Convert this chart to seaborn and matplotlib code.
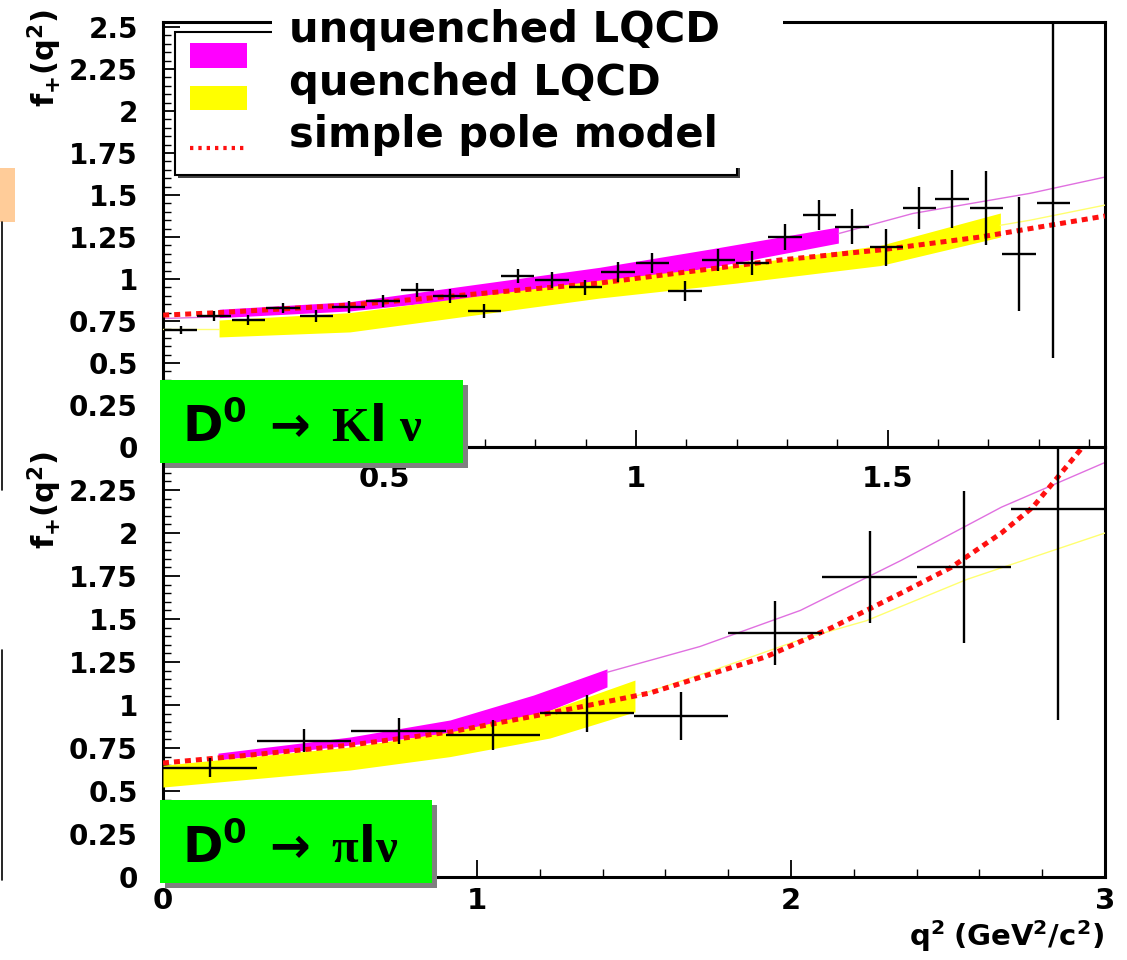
import numpy as np
import pandas as pd
import matplotlib
matplotlib.use("Agg")
import matplotlib.pyplot as plt
import seaborn as sns
from matplotlib.patches import Rectangle
from matplotlib.lines import Line2D
from matplotlib.ticker import MultipleLocator, FuncFormatter

# ---------------- data ----------------
# D0 -> K l nu  (top panel)
k_q2 = [0.095, 0.161, 0.229, 0.298, 0.364, 0.429, 0.497, 0.565, 0.630, 0.698,
        0.765, 0.833, 0.899, 0.964, 1.032, 1.097, 1.163, 1.231, 1.296, 1.364,
        1.429, 1.497, 1.563, 1.628, 1.696, 1.761, 1.829]
k_f = [0.696, 0.780, 0.756, 0.827, 0.780, 0.833, 0.869, 0.935, 0.899, 0.810,
       1.018, 0.994, 0.952, 1.042, 1.095, 0.929, 1.113, 1.095, 1.250, 1.381,
       1.310, 1.190, 1.423, 1.476, 1.423, 1.149, 1.452]
k_err_lo = [0.025, 0.03, 0.03, 0.03, 0.033, 0.035, 0.035, 0.04, 0.04, 0.04,
            0.042, 0.045, 0.045, 0.057, 0.06, 0.06, 0.068, 0.07, 0.08, 0.087,
            0.104, 0.11, 0.125, 0.173, 0.22, 0.34, 0.92]
k_err_hi = [0.025, 0.03, 0.03, 0.03, 0.033, 0.035, 0.035, 0.04, 0.04, 0.04,
            0.042, 0.045, 0.045, 0.057, 0.06, 0.06, 0.068, 0.07, 0.08, 0.087,
            0.104, 0.11, 0.125, 0.173, 0.22, 0.34, 1.10]
k_bin_half = 0.033

k_unq_x = [0.171, 0.431, 0.928, 1.15, 1.402]
k_unq_lo = [0.77, 0.81, 0.965, 1.07, 1.214]
k_unq_hi = [0.82, 0.865, 1.07, 1.18, 1.31]
k_unq_left_x = [0.06, 0.171]
k_unq_left_f = [0.765, 0.775]
k_unq_ext_x = [1.402, 1.55, 1.783, 1.932]
k_unq_ext_f = [1.27, 1.39, 1.51, 1.607]

k_q_x = [0.171, 0.431, 0.928, 1.2, 1.485, 1.724]
k_q_lo = [0.655, 0.685, 0.887, 0.976, 1.08, 1.25]
k_q_hi = [0.756, 0.80, 0.994, 1.083, 1.2, 1.393]
k_q_left_x = [0.06, 0.171]
k_q_left_f = [0.70, 0.70]
k_q_ext_x = [1.724, 1.783, 1.932]
k_q_ext_f = [1.32, 1.35, 1.44]

k_pole_x = [0.06, 0.171, 0.431, 0.928, 1.286, 1.485, 1.684, 1.783, 1.932]
k_pole_f = [0.785, 0.80, 0.845, 0.976, 1.113, 1.173, 1.25, 1.30, 1.375]

# D0 -> pi l nu  (bottom panel)
pi_q2 = [0.15, 0.45, 0.75, 1.05, 1.35, 1.65, 1.95, 2.25, 2.55, 2.85]
pi_f = [0.634, 0.791, 0.849, 0.826, 0.953, 0.936, 1.419, 1.744, 1.802, 2.14]
pi_err = [0.055, 0.067, 0.078, 0.087, 0.108, 0.14, 0.186, 0.27, 0.44, 1.23]
pi_bin_half = 0.15

pi_unq_x = [0.175, 0.596, 0.914, 1.18, 1.414]
pi_unq_lo = [0.68, 0.767, 0.837, 0.93, 1.105]
pi_unq_hi = [0.72, 0.814, 0.913, 1.058, 1.21]
pi_unq_ext_x = [1.414, 1.71, 2.03, 2.35, 2.67, 3.0]
pi_unq_ext_f = [1.19, 1.34, 1.55, 1.84, 2.15, 2.41]

pi_q_x = [0.0, 0.596, 0.914, 1.232, 1.503]
pi_q_lo = [0.523, 0.622, 0.70, 0.808, 0.96]
pi_q_hi = [0.65, 0.756, 0.843, 0.97, 1.145]
pi_q_ext_x = [1.503, 1.75, 2.03, 2.24, 2.56, 3.0]
pi_q_ext_f = [1.05, 1.20, 1.38, 1.49, 1.73, 2.0]

pi_pole_x = [0.0, 0.277, 0.596, 0.914, 1.232, 1.551, 1.92, 2.13, 2.35, 2.51,
             2.67, 2.77, 2.92, 2.96]
pi_pole_f = [0.663, 0.709, 0.767, 0.843, 0.953, 1.07, 1.28, 1.45, 1.65, 1.80,
             2.0, 2.15, 2.48, 2.6]

legend_labels = ["unquenched LQCD", "quenched LQCD", "simple pole model"]
k_title = r"$\mathbf{D^0\ \rightarrow}\ K\mathbf{l}\ \nu$"
pi_title = r"$\mathbf{D^0\ \rightarrow}\ \pi\mathbf{l}\nu$"

# ---------------- style ----------------
sns.set_theme(style="ticks")
plt.rcParams['font.family'] = ['DejaVu Sans']
plt.rcParams['font.weight'] = 'bold'
plt.rcParams['text.color'] = 'black'
plt.rcParams['axes.labelcolor'] = 'black'
plt.rcParams['xtick.color'] = 'black'
plt.rcParams['ytick.color'] = 'black'
plt.rcParams['mathtext.fontset'] = 'custom'
plt.rcParams['mathtext.rm'] = 'DejaVu Sans:bold'
plt.rcParams['mathtext.bf'] = 'DejaVu Sans:bold'
plt.rcParams['mathtext.it'] = 'Liberation Serif'
plt.rcParams['axes.unicode_minus'] = False

MAG = "#ff00ff"
YEL = "#ffff00"
RED = "#ff1010"
THIN_MAG = "#e070e0"
THIN_YEL = "#ffff70"

W, H = 1127, 960
fig = plt.figure(figsize=(W / 100, H / 100), dpi=100)
fig.patch.set_facecolor("white")


def fx(px):
    return px / W


def fy(py):
    return 1 - py / H


ax_pi = fig.add_axes([fx(163), fy(877), fx(1105) - fx(163), fy(447) - fy(877)])
ax_k = fig.add_axes([fx(163), fy(447), fx(1105) - fx(163), fy(22) - fy(447)])

fmt = FuncFormatter(lambda v, p: f"{v:g}")


def style_axis(ax):
    for s in ax.spines.values():
        s.set_linewidth(2.2)
        s.set_color("black")
        s.set_visible(True)
    ax.tick_params(which="both", direction="in", top=False, right=False,
                   colors="black", labelcolor="black")
    ax.tick_params(which="major", length=12, width=1.3)
    ax.tick_params(which="minor", length=6, width=1.0)
    ax.tick_params(axis="y", labelsize=20, pad=18)
    ax.grid(False)


def draw_panel(ax, band_u, band_q, ext_u, ext_q, pole, pts, xhalf):
    ax.fill_between(band_u[0], band_u[1], band_u[2], color=MAG, linewidth=0, zorder=2)
    for ex, ey in ext_u:
        sns.lineplot(x=ex, y=ey, ax=ax, color=THIN_MAG, linewidth=1.0,
                     sort=False, estimator=None, zorder=2)
    ax.fill_between(band_q[0], band_q[1], band_q[2], color=YEL, linewidth=0, zorder=3)
    for ex, ey in ext_q:
        sns.lineplot(x=ex, y=ey, ax=ax, color=THIN_YEL, linewidth=1.0,
                     sort=False, estimator=None, zorder=3)
    sns.lineplot(x=pole[0], y=pole[1], ax=ax, color=RED, linewidth=3.6,
                 sort=False, estimator=None, zorder=4)
    ax.lines[-1].set_linestyle((0, (1.2, 1.0)))
    ax.lines[-1].set_dash_capstyle("butt")
    ax.errorbar(pts[0], pts[1], xerr=xhalf, yerr=pts[2], fmt="none",
                ecolor="black", elinewidth=1.7, capsize=0, zorder=6)


# ---- bottom panel ----
draw_panel(ax_pi,
           (pi_unq_x, pi_unq_lo, pi_unq_hi),
           (pi_q_x, pi_q_lo, pi_q_hi),
           [(pi_unq_ext_x, pi_unq_ext_f)],
           [(pi_q_ext_x, pi_q_ext_f)],
           (pi_pole_x, pi_pole_f),
           (pi_q2, pi_f, pi_err), pi_bin_half)
ax_pi.set_xlim(0, 3)
ax_pi.set_ylim(0, 2.5)
style_axis(ax_pi)
ax_pi.xaxis.set_major_locator(MultipleLocator(1))
ax_pi.xaxis.set_minor_locator(MultipleLocator(0.2))
ax_pi.yaxis.set_major_locator(MultipleLocator(0.25))
ax_pi.yaxis.set_minor_locator(MultipleLocator(0.05))
ax_pi.xaxis.set_major_formatter(fmt)
ax_pi.yaxis.set_major_formatter(FuncFormatter(lambda v, p: "" if v > 2.4 else f"{v:g}"))
ax_pi.tick_params(axis="x", labelsize=21, pad=7)
ax_pi.set_xlabel(r"$\mathbf{q^{2}\ (GeV^{2}/c^{2})}$", fontsize=21, loc="right",
                 color="black")
ax_pi.xaxis.set_label_coords((1104 - 163) / 942, -(918 - 877) / 430)
ax_pi.set_ylabel(r"$\mathbf{f_{+}(q^{2})}$", fontsize=22, loc="top", color="black")
ax_pi.yaxis.set_label_coords((64 - 163) / 942, 1 - (452 - 447) / 430)

# ---- top panel ----
draw_panel(ax_k,
           (k_unq_x, k_unq_lo, k_unq_hi),
           (k_q_x, k_q_lo, k_q_hi),
           [(k_unq_left_x, k_unq_left_f), (k_unq_ext_x, k_unq_ext_f)],
           [(k_q_left_x, k_q_left_f), (k_q_ext_x, k_q_ext_f)],
           (k_pole_x, k_pole_f),
           (k_q2, k_f, [k_err_lo, k_err_hi]), k_bin_half)
ax_k.set_xlim(0.0596, 1.932)
ax_k.set_ylim(0, 2.53)
style_axis(ax_k)
ax_k.xaxis.set_major_locator(MultipleLocator(0.5))
ax_k.xaxis.set_minor_locator(MultipleLocator(0.1))
ax_k.yaxis.set_major_locator(MultipleLocator(0.25))
ax_k.yaxis.set_minor_locator(MultipleLocator(0.05))
ax_k.xaxis.set_major_formatter(fmt)
ax_k.yaxis.set_major_formatter(fmt)
ax_k.tick_params(axis="x", labelsize=21, pad=13)
ax_k.set_xlabel("")
ax_k.set_ylabel(r"$\mathbf{f_{+}(q^{2})}$", fontsize=22, loc="top", color="black")
ax_k.yaxis.set_label_coords((64 - 163) / 942, 1 + (22 - 10) / 425)
ax_k.set_facecolor("none")


# ---------------- overlays (legend box, text box, decay labels) ----------------
def rect_px(x0, y0, x1, y1, **kw):
    r = Rectangle((fx(x0), fy(y1)), fx(x1) - fx(x0), fy(y0) - fy(y1),
                  transform=fig.transFigure, **kw)
    fig.add_artist(r)
    return r


# legend frame with shadow
rect_px(178, 35, 740, 178, facecolor="#444444", edgecolor="none", zorder=3)
rect_px(175, 32, 737, 175, facecolor="white", edgecolor="black", linewidth=1.5, zorder=3.1)
rect_px(190, 43, 247, 68, facecolor=MAG, edgecolor="none", zorder=3.2)
rect_px(190, 86, 247, 110, facecolor=YEL, edgecolor="none", zorder=3.2)
fig.add_artist(Line2D([fx(190), fx(247)], [fy(148), fy(148)], transform=fig.transFigure,
                      color=RED, linewidth=3.0, linestyle=(0, (0.8, 1.2)), zorder=3.2))

# white text box with the legend labels
rect_px(272, 0, 783, 168, facecolor="white", edgecolor="none", zorder=4)
for i, lab in enumerate(legend_labels):
    fig.text(fx(289), fy(30 + 52.5 * i), lab, fontsize=30, fontweight="bold",
             ha="left", va="center", color="black", zorder=5)

# decay-mode tags
rect_px(165, 385, 468, 468, facecolor="#808080", edgecolor="none", zorder=4)
rect_px(160, 380, 463, 463, facecolor="#00ff00", edgecolor="none", zorder=4.1)
fig.text(fx(182), fy(442), k_title, fontsize=35, ha="left", va="baseline",
         color="black", zorder=5)

rect_px(165, 805, 437, 888, facecolor="#808080", edgecolor="none", zorder=4)
rect_px(160, 800, 432, 883, facecolor="#00ff00", edgecolor="none", zorder=4.1)
fig.text(fx(182), fy(863), pi_title, fontsize=35, ha="left", va="baseline",
         color="black", zorder=5)

# slide remnants at the left edge
rect_px(0, 168, 15, 222, facecolor="#ffcc99", edgecolor="none", zorder=4)
fig.add_artist(Line2D([fx(2), fx(2)], [fy(222), fy(490)], transform=fig.transFigure,
                      color="black", linewidth=1.2, zorder=4))
fig.add_artist(Line2D([fx(2), fx(2)], [fy(650), fy(880)], transform=fig.transFigure,
                      color="black", linewidth=1.2, zorder=4))

fig.savefig("out.png", dpi=100, facecolor="white")
